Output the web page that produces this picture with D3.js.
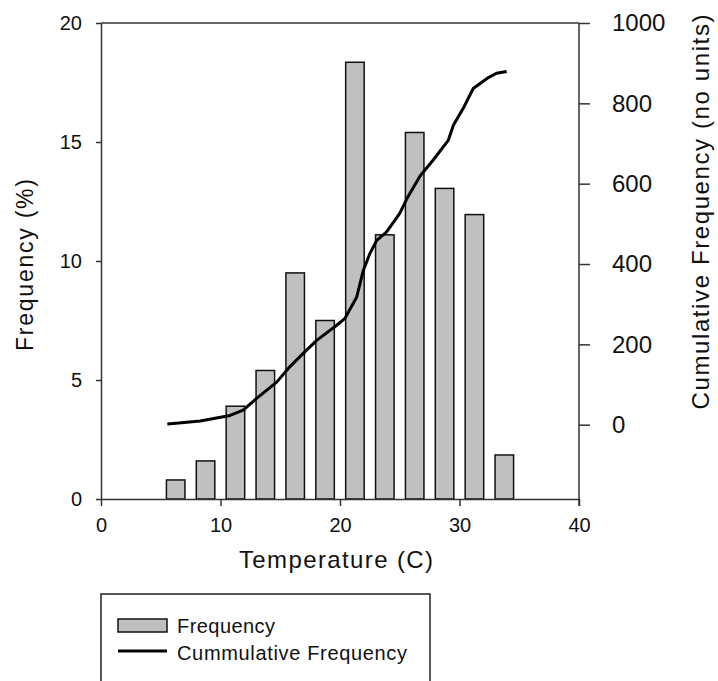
<!DOCTYPE html>
<html>
<head>
<meta charset="utf-8">
<script src="https://cdn.jsdelivr.net/npm/d3@7"></script>
<style>
  body { margin: 0; background: #fff; }
  svg { display: block; }
  text { font-family: "Liberation Sans", Arial, sans-serif; fill: #111; }
</style>
</head>
<body>
<svg id="chart" width="718" height="681"></svg>
<script>
// temperature bins (centres) and % frequency
var binCenters = [6.25, 8.75, 11.25, 13.75, 16.25, 18.75, 21.25, 23.75, 26.25, 28.75, 31.25, 33.75];
var frequency = [0.8, 1.6, 3.9, 5.4, 9.5, 7.5, 18.35, 11.1, 15.4, 13.05, 11.95, 1.85];

// cumulative frequency curve
var cumTemp = [5.55, 6.5, 8.3, 10.8, 11.9, 13.0, 14.7, 15.8, 16.9, 18.05, 19.7, 20.4, 21.4, 21.95, 22.5, 23.07, 23.9, 25.0, 25.6, 26.7, 27.8, 29.06, 29.5, 30.3, 31.15, 32.3, 33.1, 33.95];
var cumFreq = [2, 4, 9, 23, 36, 65, 106, 144, 177, 210, 247, 264, 318, 384, 426, 459, 480, 526, 563, 619, 659, 708, 746, 787, 837, 862, 875, 879];

var xTicks = [0, 10, 20, 30, 40];
var yTicks = [0, 5, 10, 15, 20];
var y2Ticks = [0, 200, 400, 600, 800, 1000];

var svg = d3.select('#chart');

var x = d3.scaleLinear().domain([0, 40]).range([101, 579]);
var y = d3.scaleLinear().domain([0, 20]).range([499, 23]);
var y2 = d3.scaleLinear().domain([-185, 1000]).range([499, 23]);

// bars
var barW = x(1.55) - x(0);
svg.append('g')
    .selectAll('rect')
    .data(binCenters)
    .enter()
    .append('rect')
    .attr('x', (d) => x(d) - barW / 2)
    .attr('y', (d, i) => y(frequency[i]))
    .attr('width', barW)
    .attr('height', (d, i) => y(0) - y(frequency[i]))
    .attr('fill', '#c0c0c0')
    .attr('stroke', '#111')
    .attr('stroke-width', 1.5);

// cumulative line
var line = d3.line()
    .x((d, i) => x(cumTemp[i]))
    .y((d) => y2(d));
svg.append('path')
    .datum(cumFreq)
    .attr('d', line)
    .attr('fill', 'none')
    .attr('stroke', '#000')
    .attr('stroke-width', 3)
    .attr('stroke-linejoin', 'round');

// frame top
svg.append('line')
    .attr('x1', x(0)).attr('x2', x(40))
    .attr('y1', y(20)).attr('y2', y(20))
    .attr('stroke', '#333').attr('stroke-width', 1.5);

function styleAxis(g) {
    g.select('.domain').attr('stroke', '#333').attr('stroke-width', 1.5);
    g.selectAll('.tick line').attr('stroke', '#333').attr('stroke-width', 1.5);
    g.selectAll('text').attr('fill', '#111').style('font-family', '"Liberation Sans", Arial, sans-serif');
}

var gx = svg.append('g')
    .attr('transform', 'translate(0,' + y(0) + ')')
    .call(d3.axisBottom(x).tickValues(xTicks).tickSize(7).tickPadding(12).tickSizeOuter(0))
    .call(styleAxis);
gx.selectAll('text').style('font-size', '20px');

var gy = svg.append('g')
    .attr('transform', 'translate(' + x(0) + ',0)')
    .call(d3.axisLeft(y).tickValues(yTicks).tickSize(5).tickPadding(14).tickSizeOuter(0))
    .call(styleAxis);
gy.selectAll('text').style('font-size', '20px');

var gy2 = svg.append('g')
    .attr('transform', 'translate(' + x(40) + ',0)')
    .call(d3.axisRight(y2).tickValues(y2Ticks).tickFormat(d3.format('d')).tickSize(11).tickPadding(22).tickSizeOuter(0))
    .call(styleAxis);
gy2.selectAll('text').style('font-size', '24px');
// right axis line runs to the bottom of the plot and a little below it (40 tick)
gy2.select('.domain').attr('d', 'M0,' + (y(20)) + 'V' + (y(0) + 7));

// axis titles
svg.append('text')
    .attr('x', 336).attr('y', 568)
    .attr('text-anchor', 'middle')
    .attr('textLength', 194)
    .attr('lengthAdjust', 'spacing')
    .style('font-size', '24px')
    .text('Temperature (C)');

svg.append('text')
    .attr('transform', 'translate(33,265) rotate(-90)')
    .attr('text-anchor', 'middle')
    .attr('textLength', 172)
    .attr('lengthAdjust', 'spacing')
    .style('font-size', '23px')
    .text('Frequency (%)');

svg.append('text')
    .attr('transform', 'translate(709,212) rotate(-90)')
    .attr('text-anchor', 'middle')
    .attr('textLength', 395)
    .attr('lengthAdjust', 'spacing')
    .style('font-size', '24px')
    .text('Cumulative Frequency (no units)');

// legend
var legend = svg.append('g');
legend.append('rect')
    .attr('x', 101).attr('y', 594)
    .attr('width', 329).attr('height', 110)
    .attr('fill', '#fff')
    .attr('stroke', '#222').attr('stroke-width', 1.5);
legend.append('rect')
    .attr('x', 118).attr('y', 619)
    .attr('width', 49).attr('height', 13)
    .attr('fill', '#c0c0c0')
    .attr('stroke', '#111').attr('stroke-width', 1.5);
legend.append('line')
    .attr('x1', 118).attr('x2', 167)
    .attr('y1', 651).attr('y2', 651)
    .attr('stroke', '#000').attr('stroke-width', 3);
legend.append('text')
    .attr('x', 177).attr('y', 633)
    .attr('textLength', 98)
    .attr('lengthAdjust', 'spacing')
    .style('font-size', '20px')
    .text('Frequency');
legend.append('text')
    .attr('x', 177).attr('y', 660)
    .attr('textLength', 230)
    .attr('lengthAdjust', 'spacing')
    .style('font-size', '20px')
    .text('Cummulative Frequency');
</script>
</body>
</html>
